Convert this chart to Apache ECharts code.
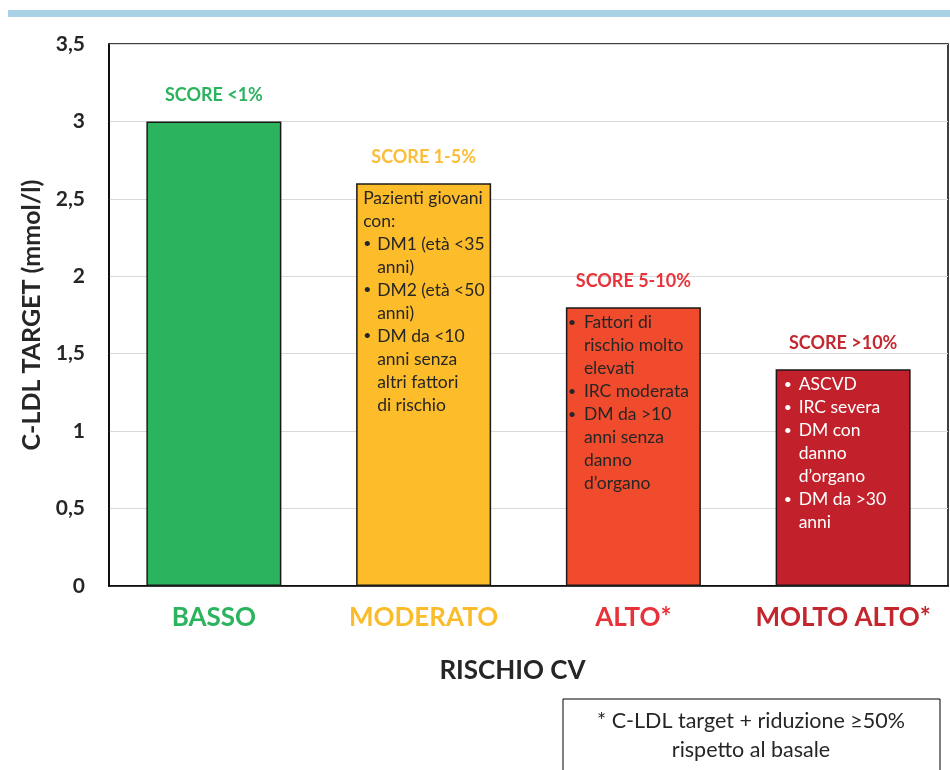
<!DOCTYPE html>
<html>
<head>
<meta charset="utf-8">
<script src="https://cdn.jsdelivr.net/npm/echarts@6/dist/echarts.min.js"></script>
<style>
  html, body { margin: 0; padding: 0; background: #fff; }
  #chart { width: 950px; height: 770px; }
</style>
</head>
<body>
<div id="chart"></div>
<script>
// Data
const categories = ['BASSO', 'MODERATO', 'ALTO*', 'MOLTO ALTO*'];
const targets = [3, 2.6, 1.8, 1.4];
const scoreLabels = ['SCORE <1%', 'SCORE 1-5%', 'SCORE 5-10%', 'SCORE >10%'];
const yTicks = ['0', '0,5', '1', '1,5', '2', '2,5', '3', '3,5'];

// Text inside the bars: each item is either a plain line group or a bullet with wrapped lines
const notesModerato = [
    { bullet: false, lines: ['Pazienti giovani', 'con:'] },
    { bullet: true, lines: ['DM1 (età <35', 'anni)'] },
    { bullet: true, lines: ['DM2 (età <50', 'anni)'] },
    { bullet: true, lines: ['DM da <10', 'anni senza', 'altri fattori', 'di rischio'] }
];
const notesAlto = [
    { bullet: true, lines: ['Fattori di', 'rischio molto', 'elevati'] },
    { bullet: true, lines: ['IRC moderata'] },
    { bullet: true, lines: ['DM da >10', 'anni senza', 'danno', 'd\u2019organo'] }
];
const notesMoltoAlto = [
    { bullet: true, lines: ['ASCVD'] },
    { bullet: true, lines: ['IRC severa'] },
    { bullet: true, lines: ['DM con', 'danno', 'd\u2019organo'] },
    { bullet: true, lines: ['DM da >30', 'anni'] }
];
const notes = [[], notesModerato, notesAlto, notesMoltoAlto];

const barColors = ['#2bb35e', '#fdbd2b', '#f04b2d', '#c2202a'];
const scoreColors = ['#2bb35e', '#fbbd3a', '#e8333a', '#c42830'];
const catColors = ['#2bb35e', '#fbbc2c', '#e8323a', '#c4262e'];
const textColors = ['#262626', '#262626', '#262626', '#ffffff'];

const FONT = 'Lato, "Open Sans", sans-serif';

// Build rich text for bullets with hanging indent
const buildNote = (items) => {
    const out = [];
    items.forEach((it) => {
        it.lines.forEach((ln, i) => {
            if (!it.bullet) {
                out.push('{p|' + ln + '}');
            } else if (i === 0) {
                out.push('{b|\u2022}{t|' + ln + '}');
            } else {
                out.push('{b| }{t|' + ln + '}');
            }
        });
    });
    return out.join('\n');
};

const notePad = [[4, 0, 0, 7], [3, 0, 0, 7], [4, 0, 0, 2], [4, 0, 0, 8]];
const bulletW = [14, 14, 16, 15];

const chart = echarts.init(document.getElementById('chart'), null, { renderer: 'canvas' });

const option = {
    animation: false,
    backgroundColor: '#fff',
    grid: {
        left: 109, right: 2, top: 44, bottom: 184,
        show: true, borderColor: '#000', borderWidth: 1.5, backgroundColor: 'transparent'
    },
    xAxis: {
        type: 'category',
        data: categories,
        name: 'RISCHIO CV',
        nameLocation: 'middle',
        nameGap: 72,
        nameTextStyle: { fontFamily: FONT, fontWeight: 'bold', fontSize: 26, color: '#262626', padding: [0, 32, 0, 0] },
        axisLine: { lineStyle: { color: '#000', width: 1.5 } },
        axisTick: { show: false },
        axisLabel: {
            interval: 0,
            margin: 19,
            fontFamily: FONT,
            fontWeight: 'bold',
            fontSize: 26,
            color: (v) => catColors[categories.indexOf(v)]
        }
    },
    yAxis: {
        type: 'value',
        min: 0, max: 3.5, interval: 0.5,
        name: 'C-LDL TARGET (mmol/l)',
        nameLocation: 'middle',
        nameGap: 64,
        nameTextStyle: { fontFamily: FONT, fontWeight: 'bold', fontSize: 25, color: '#262626' },
        axisLine: { show: true, lineStyle: { color: '#000', width: 1.5 } },
        axisTick: { show: false },
        splitLine: { lineStyle: { color: '#d9d9d9', width: 1.2 } },
        axisLabel: {
            margin: 24,
            fontFamily: FONT,
            fontWeight: 'bold',
            fontSize: 21,
            color: '#262626',
            formatter: (v) => yTicks[Math.round(v / 0.5)]
        }
    },
    series: [
        {
            type: 'bar',
            barWidth: 135,
            data: targets.map((v, i) => ({
                value: v,
                itemStyle: { color: barColors[i], borderColor: '#1a1a1a', borderWidth: 1.5 },
                label: {
                    show: true,
                    position: 'top',
                    distance: 17,
                    formatter: scoreLabels[i],
                    fontFamily: FONT,
                    fontWeight: 'bold',
                    fontSize: 18,
                    color: scoreColors[i]
                }
            }))
        },
        {
            type: 'bar',
            barWidth: 135,
            barGap: '-100%',
            silent: true,
            data: targets.map((v, i) => ({
                value: v,
                itemStyle: { color: 'transparent' },
                label: {
                    show: notes[i].length > 0,
                    position: 'insideTopLeft',
                    distance: 0,
                    padding: notePad[i],
                    formatter: buildNote(notes[i]),
                    rich: {
                        p: { fontFamily: FONT, fontSize: 17.5, lineHeight: 23, color: textColors[i] },
                        b: { fontFamily: FONT, fontSize: 14, lineHeight: 23, width: bulletW[i], color: textColors[i] },
                        t: { fontFamily: FONT, fontSize: 17.5, lineHeight: 23, color: textColors[i] }
                    }
                }
            }))
        }
    ],
    graphic: [
        { type: 'rect', shape: { x: 8, y: 10, width: 942, height: 7 }, style: { fill: '#a9d1e5' } },
        {
            type: 'rect',
            shape: { x: 563, y: 699, width: 377, height: 90 },
            style: { fill: '#fff', stroke: '#000', lineWidth: 1 }
        },
        {
            type: 'text',
            x: 751, y: 707,
            style: {
                text: '* C-LDL target + riduzione \u226550%\nrispetto al basale',
                fontFamily: FONT, fontSize: 21.5, lineHeight: 29,
                fill: '#262626', align: 'center', verticalAlign: 'top'
            }
        }
    ]
};

chart.setOption(option);
</script>
</body>
</html>
